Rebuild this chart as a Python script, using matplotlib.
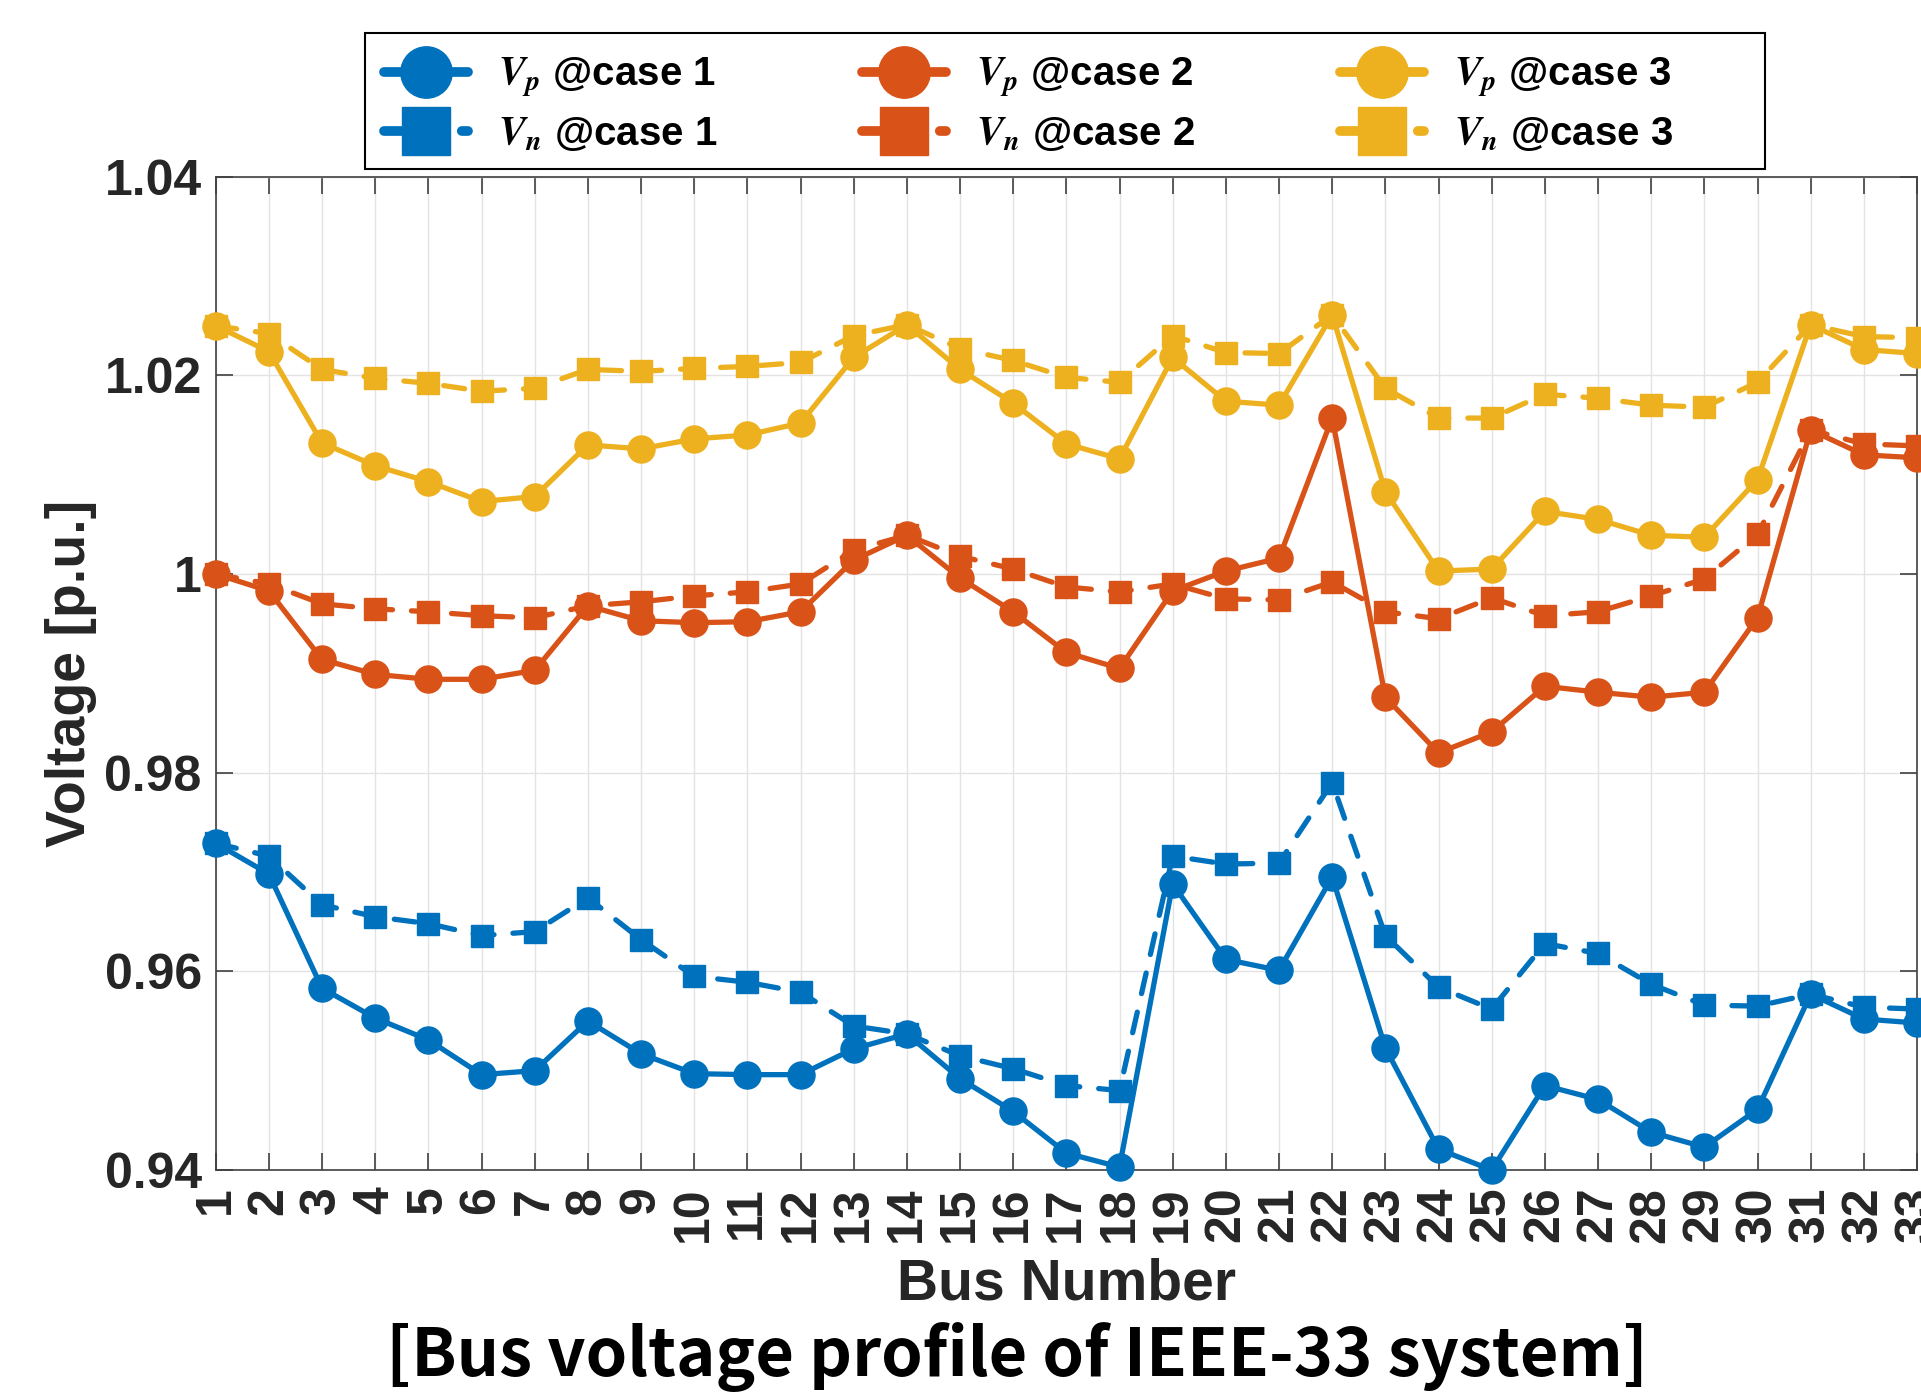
import numpy as np
import matplotlib
matplotlib.use("Agg")
import matplotlib.pyplot as plt
from matplotlib.lines import Line2D
from matplotlib.patches import Rectangle

# bus voltage profiles (p.u.), positive / negative sequence, three cases
bus = np.arange(1, 34)

vp_case1 = [0.9729, 0.9698, 0.9583, 0.9553, 0.9531, 0.9496, 0.9500, 0.9550, 0.9517, 0.9497, 0.9496,
            0.9496, 0.9522, 0.9537, 0.9492, 0.9459, 0.9417, 0.9403, 0.9688, 0.9612, 0.9601, 0.9695,
            0.9523, 0.9421, 0.9400, 0.9485, 0.9471, 0.9438, 0.9423, 0.9461, 0.9577, 0.9552, 0.9548]
vn_case1 = [0.9729, 0.9716, 0.9667, 0.9655, 0.9648, 0.9636, 0.9640, 0.9674, 0.9632, 0.9595, 0.9589,
            0.9579, 0.9545, 0.9537, 0.9515, 0.9502, 0.9485, 0.9480, 0.9716, 0.9708, 0.9709, 0.9790,
            0.9636, 0.9584, 0.9562, 0.9628, 0.9618, 0.9587, 0.9566, 0.9565, 0.9577, 0.9564, 0.9562]
vp_case2 = [1.0000, 0.9983, 0.9914, 0.9899, 0.9894, 0.9894, 0.9903, 0.9968, 0.9953, 0.9951, 0.9952,
            0.9962, 1.0014, 1.0039, 0.9996, 0.9962, 0.9921, 0.9905, 0.9983, 1.0003, 1.0016, 1.0157,
            0.9876, 0.9820, 0.9841, 0.9887, 0.9881, 0.9876, 0.9881, 0.9956, 1.0145, 1.0120, 1.0117]
vn_case2 = [1.0000, 0.9990, 0.9970, 0.9965, 0.9962, 0.9958, 0.9956, 0.9968, 0.9972, 0.9978, 0.9982,
            0.9990, 1.0024, 1.0039, 1.0018, 1.0005, 0.9987, 0.9982, 0.9990, 0.9975, 0.9974, 0.9992,
            0.9962, 0.9955, 0.9976, 0.9958, 0.9962, 0.9978, 0.9995, 1.0040, 1.0145, 1.0131, 1.0129]
vp_case3 = [1.0250, 1.0224, 1.0132, 1.0109, 1.0093, 1.0073, 1.0078, 1.0130, 1.0126, 1.0136, 1.0140,
            1.0152, 1.0218, 1.0251, 1.0206, 1.0172, 1.0131, 1.0116, 1.0218, 1.0174, 1.0170, 1.0261,
            1.0083, 1.0003, 1.0005, 1.0063, 1.0055, 1.0039, 1.0037, 1.0095, 1.0251, 1.0226, 1.0222]
vn_case3 = [1.0250, 1.0242, 1.0206, 1.0197, 1.0192, 1.0184, 1.0187, 1.0206, 1.0204, 1.0207, 1.0209,
            1.0213, 1.0240, 1.0251, 1.0227, 1.0215, 1.0198, 1.0193, 1.0240, 1.0223, 1.0222, 1.0261,
            1.0187, 1.0157, 1.0157, 1.0181, 1.0177, 1.0170, 1.0168, 1.0193, 1.0251, 1.0239, 1.0238]

case_labels = ["case 1", "case 2", "case 3"]
case_colors = ["#0072BD", "#D95319", "#EDB120"]
ytick_vals = [0.94, 0.96, 0.98, 1.00, 1.02, 1.04]
ytick_text = ["0.94", "0.96", "0.98", "1", "1.02", "1.04"]

plt.rcParams["font.family"] = ["Liberation Sans", "DejaVu Sans"]
plt.rcParams["font.weight"] = "bold"
plt.rcParams["mathtext.fontset"] = "stix"

W, H = 1921, 1394
fig = plt.figure(figsize=(W / 100, H / 100), dpi=100)
ax = fig.add_axes([215.7 / W, 1 - 1170 / H, (1917 - 215.7) / W, (1170 - 176.7) / H])

series = [(vp_case1, vn_case1), (vp_case2, vn_case2), (vp_case3, vn_case3)]
handles = []
labels = []
for (vp, vn), col, lab in zip(series, case_colors, case_labels):
    ax.plot(bus, vp, color=col, lw=3.8, marker="o", markersize=19.5,
            solid_capstyle="round", clip_on=False, zorder=3)
    ax.plot(bus, vn, color=col, lw=3.8, marker="s", markersize=16, linestyle=(0, (4.0, 3.6)),
            dash_capstyle="round", clip_on=False, zorder=3)
    # larger symbols for the legend keys
    handles.append(Line2D([], [], color=col, lw=7, marker="o", markersize=37,
                          solid_capstyle="round"))
    handles.append(Line2D([], [], color=col, lw=7, marker="s", markersize=35,
                          linestyle=(0, (3.0, 5.0)), dash_capstyle="round"))
    labels.append(r"$\mathbfit{V}_p$ @" + lab)
    labels.append(r"$\mathbfit{V}_n$ @" + lab)

ax.set_xlim(1, 33)
ax.set_ylim(0.94, 1.04)
ax.set_xticks(bus)
ax.set_xticklabels([str(b) for b in bus], rotation=90, fontsize=36, fontweight="bold", color="#262626")
ax.set_yticks(ytick_vals)
ax.set_yticklabels(ytick_text, fontsize=36, fontweight="bold", color="#262626")
ax.tick_params(axis="both", direction="in", length=12, width=1.2, color="#404040",
               top=True, right=True)
ax.tick_params(axis="x", pad=12)
ax.tick_params(axis="y", pad=10)
ax.grid(True, color="#e3e3e3", lw=1.0, zorder=0)
ax.set_axisbelow(True)
for sp in ax.spines.values():
    sp.set_color("#404040")
    sp.set_linewidth(1.2)

ax.set_xlabel("Bus Number", fontsize=41, fontweight="bold", color="#262626", labelpad=11)
ax.set_ylabel("Voltage [p.u.]", fontsize=40, fontweight="bold", color="#262626", labelpad=5)

# legend box drawn separately so its padding can be set freely
fig.patches.append(Rectangle((365 / W, 1 - 169 / H), 1400 / W, 136 / H, transform=fig.transFigure,
                             fill=True, facecolor="white", edgecolor="black", lw=1.5, zorder=5))
leg = fig.legend(handles, labels, loc="upper left", ncol=3,
                 bbox_to_anchor=(384 / W, 1 - 56 / H), borderaxespad=0,
                 handlelength=2.08, handletextpad=0.75, columnspacing=3.6,
                 labelspacing=0.38, borderpad=0, frameon=False,
                 prop={"weight": "bold", "size": 29})
leg.set_zorder(6)

fig.text(1017 / W, 1 - 1357 / H, "[Bus voltage profile of IEEE-33 system]",
         ha="center", va="center", fontsize=48, fontweight="bold",
         family=["Noto Sans CJK KR", "DejaVu Sans"], color="black")

fig.savefig("out.png", dpi=100)
